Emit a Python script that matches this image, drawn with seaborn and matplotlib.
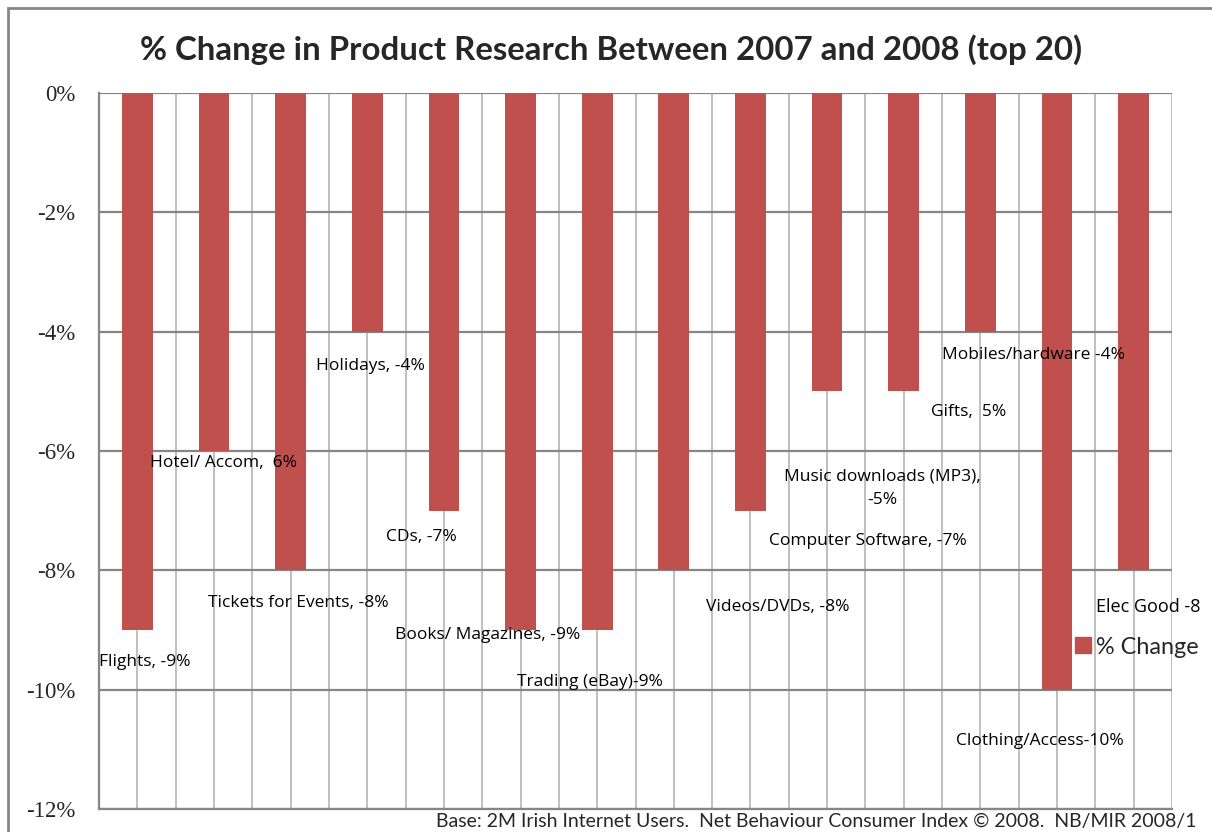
import numpy as np
import pandas as pd
import matplotlib
matplotlib.use("Agg")
import matplotlib.pyplot as plt
from matplotlib.patches import Patch, Rectangle
import seaborn as sns

# ---- data ----
categories = ["Flights", "Hotel/ Accom", "Tickets for Events", "Holidays", "CDs",
              "Books/ Magazines", "Trading (eBay)", "Videos/DVDs", "Computer Software",
              "Music downloads (MP3)", "Gifts", "Mobiles/hardware", "Clothing/Access",
              "Elec Good"]
values = [-9, -6, -8, -4, -7, -9, -9, -8, -7, -5, -5, -4, -10, -8]
point_labels = ["Flights, -9%", "Hotel/ Accom,  6%", "Tickets for Events, -8%",
                "Holidays, -4%", "CDs, -7%", "Books/ Magazines, -9%",
                "Trading (eBay)-9%", "Videos/DVDs, -8%", "Computer Software, -7%",
                "Music downloads (MP3),\n-5%", "Gifts,  5%", "Mobiles/hardware -4%",
                "Clothing/Access-10%", "Elec Good -8"]
yticks = [0, -2, -4, -6, -8, -10, -12]
ytick_labels = ["0%", "-2%", "-4%", "-6%", "-8%", "-10%", "-12%"]
title = "% Change in Product Research Between 2007 and 2008 (top 20)"
series_name = "% Change"
footnote = "Base: 2M Irish Internet Users.  Net Behaviour Consumer Index \u00a9 2008.  NB/MIR 2008/1"

# label offsets (category units, percent units) relative to each bar end
label_dx = [0.10, 0.13, 0.10, 0.04, -0.30, -0.43, -0.10, 1.35, 1.53, 0.72, 0.84, 0.69, -0.22, 0.19]
label_dy = [-0.54, -0.20, -0.55, -0.58, -0.44, -0.08, -0.87, -0.61, -0.51, -1.62, -0.35, -0.39, -0.86, -0.61]

BAR = "#C0504D"
HGRID = "#868686"
VGRID = "#B4B4B4"

sns.set_style("white")
plt.rcParams["font.family"] = ["Lato", "DejaVu Sans"]

fig = plt.figure(figsize=(12.12, 8.32), dpi=100)
ax = fig.add_axes([99 / 1212, 1 - 809 / 832, (1172 - 99) / 1212, (809 - 93) / 832])

df = pd.DataFrame({"cat": categories, "val": values})
sns.barplot(data=df, x="cat", y="val", color=BAR, width=0.4, saturation=1, ax=ax,
            zorder=3, linewidth=0)

ax.set_xlim(-0.5, len(categories) - 0.5)
ax.set_ylim(-12, 0)
ax.set_xlabel("")
ax.set_ylabel("")

# vertical grid at every half category
ax.set_xticks(np.arange(-0.5, len(categories), 0.5))
ax.set_xticklabels([])
ax.tick_params(axis="x", length=3, color=VGRID, width=1.2)
ax.xaxis.grid(True, color=VGRID, linewidth=1.2, zorder=0)

ax.set_yticks(yticks)
ax.set_yticklabels(ytick_labels, family="Liberation Serif", fontsize=16.5)
ax.tick_params(axis="y", length=5, color=HGRID, width=1.6, pad=12)
ax.yaxis.grid(True, color=HGRID, linewidth=1.6, zorder=1)
ax.set_axisbelow(True)

for s in ["top", "right"]:
    ax.spines[s].set_visible(False)
for s in ["left", "bottom"]:
    ax.spines[s].set_color(HGRID)
    ax.spines[s].set_linewidth(1.6)

# data labels
for i, (v, lab) in enumerate(zip(values, point_labels)):
    big = (i == len(values) - 1)
    ax.text(i + label_dx[i], v + label_dy[i], lab, ha="center", va="center",
            fontsize=13 if big else 12.5, family=["Open Sans", "DejaVu Sans"],
            color="black", zorder=5, linespacing=1.6)

# legend
ax.legend(handles=[Patch(facecolor=BAR, edgecolor=BAR)], labels=[series_name],
          loc="center left", bbox_to_anchor=(1075 / 1212, 1 - 647 / 832),
          bbox_transform=fig.transFigure, frameon=False, fontsize=16.8,
          handlelength=0.68, handleheight=0.68, handletextpad=0.2, borderpad=0,
          borderaxespad=0)

fig.text(611 / 1212, 1 - 50 / 832, title, ha="center", va="center",
         fontsize=23.8, fontweight="bold")
fig.text(1197 / 1212, 1 - 822 / 832, footnote, ha="right", va="center", fontsize=14)

# outer chart border
fig.patches.append(Rectangle((8 / 1212, -0.1), 1.2, 1 - 8 / 832 + 0.1,
                             transform=fig.transFigure, fill=False,
                             edgecolor=HGRID, linewidth=2, zorder=0))

fig.savefig("out.png", dpi=100)
